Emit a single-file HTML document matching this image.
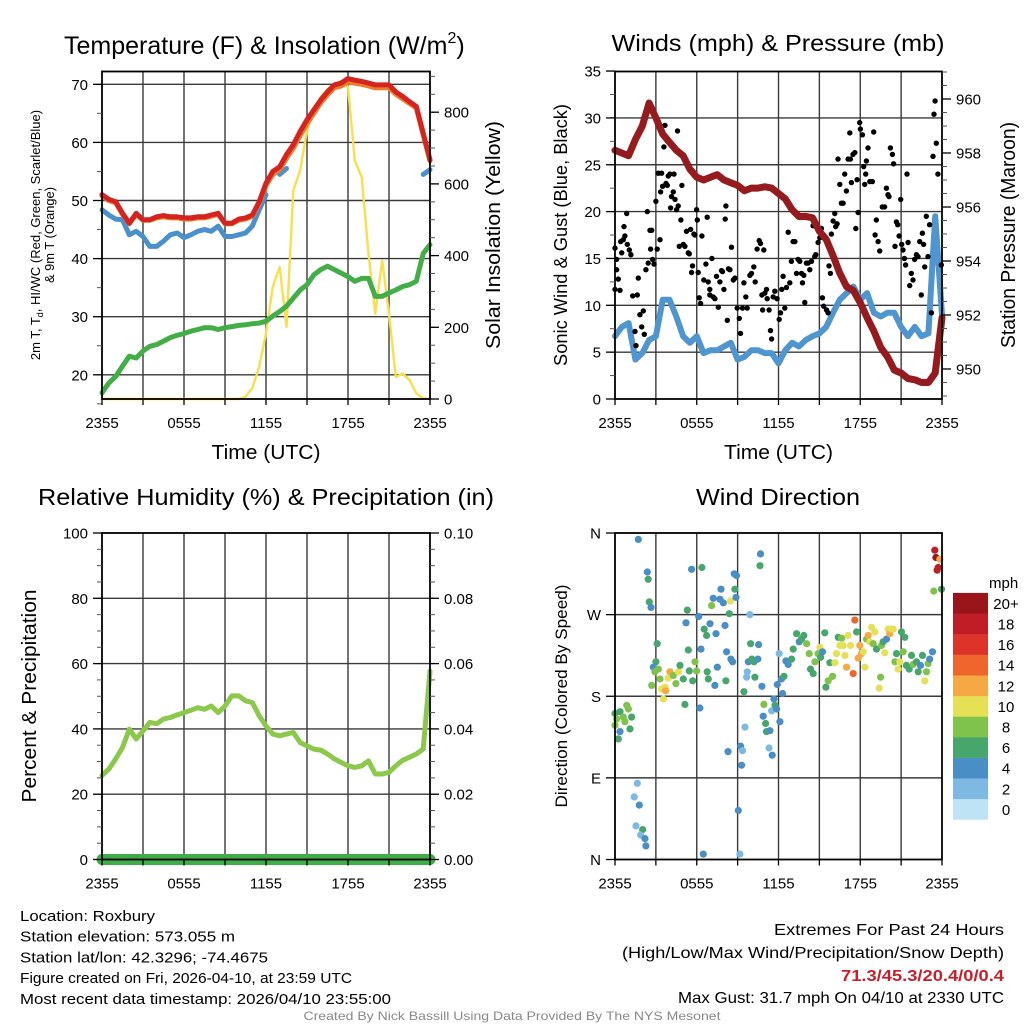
<!DOCTYPE html>
<html><head><meta charset="utf-8"><style>
body{margin:0;background:#fff}
svg{display:block;font-family:"Liberation Sans",Arial,sans-serif}
</style></head><body>
<svg id="c" width="1024" height="1024" viewBox="0 0 1024 1024" xmlns="http://www.w3.org/2000/svg"></svg>
<script>
// ---- data (half-hourly from 2355 to 2355, 49 points) ----
const xTickLabels = ["2355","0555","1155","1755","2355"];
const tempRed = [51.0,50.2,49.8,47.8,46.1,47.8,46.7,46.7,47.2,47.4,47.2,47.2,47.0,47.0,47.2,47.2,47.5,47.8,46.1,46.1,46.8,47.0,47.5,49.8,53.0,55.0,55.8,57.9,59.6,61.9,63.9,65.6,67.3,68.7,69.9,70.2,71.0,70.7,70.5,70.2,69.9,69.9,69.9,68.7,67.9,67.0,66.2,61.6,57.0];
const tempOrange = [50.8,50.0,49.6,47.6,46.0,47.6,46.6,46.6,47.0,47.2,47.0,47.0,46.8,46.8,47.0,47.0,47.3,47.6,46.0,46.0,46.6,46.8,47.3,49.5,52.6,54.5,55.3,57.3,59.0,61.2,63.2,65.0,66.8,68.2,69.4,69.7,70.4,70.2,70.0,69.7,69.4,69.4,69.4,68.3,67.5,66.7,65.9,61.3,56.8];
const hiwcBlue = [48.4,47.5,46.8,46.7,44.1,44.7,43.8,42.1,42.1,43.0,44.1,44.4,43.6,44.1,44.7,45.0,44.7,45.6,43.8,43.8,44.1,44.4,45.6,48.4,51.0,null,54.5,55.5,null,null,null,null,null,null,null,null,null,null,null,null,null,null,null,null,null,null,null,54.5,55.3];
const dewGreen = [16.9,18.6,19.7,21.5,23.2,22.9,24.1,24.9,25.2,25.8,26.4,26.8,27.1,27.5,27.8,28.1,28.1,27.8,28.1,28.3,28.5,28.6,28.8,28.9,29.2,30.1,30.9,31.8,33.2,34.6,35.5,37.2,38.1,38.7,38.1,37.5,36.9,36.1,36.6,36.6,33.5,33.5,34.1,34.6,35.2,35.5,36.1,40.9,42.4];
const solarYellow = [0,0,0,0,0,0,0,0,0,0,0,0,0,0,0,0,0,0,0,0,0,6,30,90,183,313,368,201,582,638,749,805,842,865,870,888,870,665,619,405,238,387,238,61,71,53,16,2,0];
const windSust = [6.7,7.7,8.1,4.2,4.9,6.3,6.7,10.6,10.6,8.8,6.7,6.0,6.7,4.9,5.2,5.2,5.6,6.0,4.2,4.5,5.2,5.2,4.9,4.9,3.8,5.2,6.0,5.6,6.3,6.7,7.0,7.7,9.2,10.6,11.3,12.0,10.6,11.3,9.2,8.8,9.2,9.2,7.7,6.7,7.7,6.7,7.0,19.5,9.0];
const pressure = [958.1,958.0,957.9,958.5,959.0,959.85,959.3,958.7,958.4,958.1,957.9,957.4,957.1,957.0,957.1,957.2,957.0,956.9,956.8,956.6,956.7,956.7,956.75,956.7,956.5,956.3,955.9,955.65,955.65,955.6,955.1,954.8,954.2,953.55,953.05,952.9,952.45,951.9,951.4,950.8,950.45,949.96,949.85,949.65,949.6,949.5,949.5,949.85,951.9];
const rhValues = [25.7,27.7,30.8,34.3,39.9,36.9,39.4,42.0,41.6,43.0,43.5,44.3,45.0,45.7,46.5,46.0,47.0,45.0,47.0,50.1,50.1,48.6,48.1,44.0,40.9,38.4,37.9,38.4,38.9,35.8,34.8,33.8,33.5,32.3,30.8,29.7,28.7,28.2,28.7,30.2,26.2,26.2,26.7,28.7,30.4,31.3,32.3,33.8,57.7];
const precipValues = [0,0,0,0,0,0,0,0,0,0,0,0,0,0,0,0,0,0,0,0,0,0,0,0,0,0,0,0,0,0,0,0,0,0,0,0,0,0,0,0,0,0,0,0,0,0,0,0,0];
// gusts: hours after 2355, mph
const gustHours = [0.0,0.0,0.12,0.12,0.24,0.37,0.42,0.49,0.61,0.66,0.73,0.86,0.9,1.05,1.17,1.3,1.47,1.54,1.64,1.71,1.83,1.96,2.08,2.15,2.27,2.37,2.44,2.57,2.61,2.69,2.76,2.86,3.0,3.1,3.18,3.3,3.35,3.42,3.49,3.59,3.67,3.74,3.84,3.91,4.03,4.08,4.15,4.28,4.33,4.4,4.52,4.59,4.64,4.72,4.84,4.91,5.01,5.13,5.25,5.38,5.45,5.55,5.62,5.69,5.79,5.87,5.99,6.04,6.11,6.18,6.28,6.38,6.52,6.67,6.77,6.84,6.96,7.11,6.96,7.21,7.33,7.45,7.58,7.7,7.82,7.89,7.99,8.09,8.14,8.24,8.33,8.43,8.55,8.68,8.8,8.97,9.12,9.21,9.36,9.46,9.6,9.7,9.9,10.02,10.19,10.29,10.43,10.58,10.68,10.78,10.83,10.92,11.0,11.12,11.17,11.31,11.41,11.49,11.61,11.73,11.9,12.05,12.15,12.24,12.34,12.46,12.59,12.71,12.83,12.95,13.07,13.2,13.32,13.44,13.56,13.69,13.76,13.86,13.93,14.05,14.17,14.3,14.42,14.54,14.66,14.74,14.91,15.03,15.15,15.22,15.32,15.52,15.64,15.71,15.81,15.88,16.01,16.13,16.2,16.3,16.37,16.5,16.62,16.74,16.86,16.98,17.11,17.23,17.28,17.35,17.47,17.6,17.67,17.77,17.84,17.96,18.01,18.16,18.25,18.33,18.4,18.45,18.57,18.7,18.89,18.99,19.09,19.18,19.31,19.43,19.62,19.79,19.92,20.04,20.11,20.21,20.36,20.45,20.55,20.65,20.75,20.85,20.97,21.04,21.14,21.24,21.33,21.43,21.51,21.63,21.75,21.87,21.99,22.12,22.24,22.36,22.48,22.56,22.65,22.73,22.85,22.97,23.09,23.22,23.34,23.41,23.49,23.58,23.7,23.95];
const gustMph = [16.1,11.7,14.9,13.8,12.8,11.6,16.8,15.6,17.0,18.4,17.4,19.8,16.5,15.9,15.4,11.0,7.2,5.7,11.1,12.9,9.0,7.7,9.4,6.9,13.8,20.0,14.5,18.0,16.0,18.0,14.9,14.4,21.1,16.0,24.1,17.0,22.1,24.1,22.7,26.9,29.2,23.0,22.8,23.8,24.0,20.4,21.6,22.1,24.0,21.3,20.2,28.6,20.6,16.3,19.1,22.8,16.5,16.3,17.9,15.6,15.5,18.1,13.5,14.2,17.6,17.5,20.2,19.1,13.5,10.8,10.2,17.4,12.7,14.4,19.4,12.5,11.7,15.0,11.1,10.9,10.7,13.1,9.8,12.5,13.7,13.6,11.7,19.2,20.6,8.4,13.9,13.8,16.2,12.7,12.9,9.7,8.6,7.0,9.7,12.4,10.9,9.7,13.2,13.4,14.1,12.5,16.0,16.9,16.6,11.1,9.5,15.9,11.3,11.7,10.7,9.5,7.3,6.4,10.9,11.5,10.7,8.5,9.2,11.7,13.1,9.7,11.9,17.8,12.4,14.7,16.8,16.8,13.4,14.9,14.7,13.4,12.4,13.2,10.3,14.5,14.5,13.8,14.7,18.5,15.2,15.4,16.7,17.2,18.2,10.8,9.9,9.5,9.2,14.2,13.4,17.6,19.0,19.8,18.4,18.7,25.6,22.9,20.9,20.9,24.0,22.2,25.6,28.4,25.6,23.1,26.1,26.3,18.2,23.4,19.9,29.5,28.8,28.2,24.8,22.9,24.0,25.4,26.8,23.2,23.2,28.5,17.5,19.1,16.8,15.8,20.5,20.5,22.5,21.8,21.6,26.8,26.1,25.1,16.3,18.9,18.6,17.4,21.3,16.5,15.9,15.0,14.3,24.0,16.7,12.1,13.4,12.7,14.9,15.4,15.2,16.8,11.1,17.7,16.5,14.1,19.5,15.2,18.6,9.2,25.9,30.4,31.8,27.3,24.0,14.3];
// wind direction: hours, degrees, speed (mph)
const dirHours = [0.0,0.12,0.37,0.61,0.86,0.98,1.22,1.1,0.37,0.24,0.0,0.73,1.71,2.37,2.44,2.52,2.64,1.64,1.42,1.78,1.54,2.03,1.88,2.2,2.27,3.1,3.0,2.81,3.18,2.93,3.3,2.69,3.42,3.67,3.55,3.72,4.03,3.91,4.28,4.47,4.65,4.77,5.01,5.13,5.31,5.21,5.38,5.45,5.7,5.62,5.87,5.99,6.14,6.23,6.31,6.38,6.55,6.72,6.77,6.85,6.97,7.09,7.21,7.41,7.51,7.33,7.78,7.7,7.95,8.07,8.14,8.19,8.29,8.39,8.51,8.63,8.48,8.75,8.92,8.8,8.88,9.22,9.36,9.29,9.05,9.17,6.48,9.54,9.46,9.71,9.66,9.78,9.95,10.05,10.2,10.27,10.54,10.49,10.68,10.64,9.9,10.78,10.93,11.05,11.12,11.3,11.37,11.54,10.88,11.49,11.66,11.74,11.86,11.91,12.05,12.1,12.22,12.3,12.4,12.54,12.71,12.96,13.08,13.33,13.52,13.69,13.86,14.06,14.25,14.35,14.55,14.67,14.91,15.04,15.09,15.23,15.4,15.48,15.65,15.77,15.97,16.14,16.26,16.38,16.5,16.63,16.75,16.87,16.99,17.11,17.29,17.48,17.6,17.73,17.85,17.97,18.09,18.22,18.34,18.46,18.58,18.7,18.83,18.95,19.07,19.19,19.39,19.49,19.56,19.68,19.8,19.93,20.05,20.17,20.29,20.42,20.54,20.66,20.78,20.9,21.03,21.15,21.27,21.39,21.59,21.76,21.88,22.13,22.25,22.42,22.57,22.74,22.86,22.98,23.1,23.3,23.47,23.55,23.72,23.64,23.84,23.4,23.96];
const dirDeg = [161,155,163,157,170,166,157,144,141,133,148,152,353,317,309,284,278,84,69,60,37,33,27,23,15,238,218,212,210,207,199,192,188,190,177,186,207,200,203,194,207,214,199,171,275,261,231,208,197,320,218,208,268,167,232,322,254,247,207,199,260,280,288,249,212,192,298,287,283,258,197,229,119,271,221,218,285,315,313,298,289,125,120,104,54,6,6,146,185,207,201,218,238,221,218,201,237,221,337,324,270,191,171,150,141,123,142,115,158,164,177,170,166,193,227,152,199,183,202,219,215,221,232,249,240,243,247,238,227,210,205,218,227,234,223,229,250,190,197,217,202,217,227,245,236,244,236,225,212,247,236,205,264,251,222,236,227,229,212,243,247,240,256,238,251,232,189,201,236,240,228,243,254,249,254,254,218,227,210,218,251,229,245,214,210,225,215,218,207,214,225,197,207,216,221,229,341,333,322,319,331,296,298];
const dirSpeed = [6,8,6,8,8,8,6,6,4,6,8,8,4,4,6,6,4,2,2,4,2,6,2,4,4,6,6,4,8,8,8,8,10,10,10,12,12,10,8,8,10,6,6,6,6,4,6,6,6,4,8,8,4,4,4,6,6,6,6,6,4,8,4,4,4,4,4,4,4,4,6,4,4,6,4,4,10,4,4,6,4,4,2,4,4,2,4,2,6,2,2,4,6,6,6,6,4,4,4,6,2,4,8,6,6,2,4,4,4,2,4,6,4,4,2,4,4,4,6,4,4,6,6,6,4,6,6,8,8,6,6,8,8,10,6,4,6,6,8,6,8,10,10,6,10,8,10,10,12,10,10,14,14,6,12,12,12,10,10,8,12,10,10,8,10,6,10,8,8,6,10,4,10,12,10,10,8,6,10,10,6,8,6,6,6,6,8,6,6,4,6,10,8,8,4,4,18,20,18,18,12,8,6];
const speedColors = ["#bde3f5","#7db9e3","#4a8ec6","#46a66c","#7fc24c","#e6e057","#f6a843","#ef662c","#dd3329","#c01d26","#9a1519"];
const speedLabels = ["0","2","4","6","8","10","12","14","16","18","20+"];

const svg = document.getElementById('c');
const NS = 'http://www.w3.org/2000/svg';
function mk(tag, attrs, parent){const e=document.createElementNS(NS,tag);for(const k in attrs)e.setAttribute(k,attrs[k]);(parent||svg).appendChild(e);return e;}
function txt(s, attrs, parent){const e=mk('text',attrs,parent);e.textContent=s;return e;}

function panel(name,x0,y0,x1,y1){
  const g=mk('g',{});
  
  
  return {g,x0,y0,x1,y1,xh:h=>x0+(x1-x0)*h/24};
}
function grid(p, yVals, yFn){
  const gg=mk('g',{},p.g);
  
  
  for(let h=3;h<24;h+=3){mk('line',{x1:p.xh(h),x2:p.xh(h),y1:p.y0,y2:p.y1,stroke:'#3a3a3a','stroke-width':1.4},gg);}
  yVals.forEach(v=>{const y=yFn(v);if(y>p.y0+1&&y<p.y1-1)mk('line',{x1:p.x0,x2:p.x1,y1:y,y2:y,stroke:'#3a3a3a','stroke-width':1.4},gg);});
}
function frame(p){
  const r=mk('rect',{x:p.x0,y:p.y0,width:p.x1-p.x0,height:p.y1-p.y0,fill:'none',stroke:'#000','stroke-width':1.8},p.g);
  
  
}
function xAxis(p,withTitle){
  const ax=mk('g',{},p.g);
  
  
  for(let h=0;h<=24;h+=3)mk('line',{x1:p.xh(h),x2:p.xh(h),y1:p.y1,y2:p.y1+6,stroke:'#000','stroke-width':1.3},ax);
  xTickLabels.forEach((l,i)=>{const t=txt(l,{x:p.xh(i*6),y:p.y1+29,'font-size':15,'text-anchor':'middle'},ax);
    
    });
  if(withTitle){const t=txt('Time (UTC)',{x:(p.x0+p.x1)/2,y:p.y1+60,'font-size':20,'text-anchor':'middle',textLength:109,lengthAdjust:'spacingAndGlyphs'},ax);
    
    }
}
function yAxis(p,side,ticks,labels,fn,minor){
  const ax=mk('g',{},p.g);
  
  
  const x=side==='left'?p.x0:p.x1, d=side==='left'?-1:1;
  (minor||[]).forEach(v=>{const y=fn(v);mk('line',{x1:x,x2:x+d*5,y1:y,y2:y,stroke:'#555','stroke-width':1},ax);});
  ticks.forEach((v,i)=>{const y=fn(v);mk('line',{x1:x,x2:x+d*9,y1:y,y2:y,stroke:'#000','stroke-width':1.3},ax);
    const t=txt(labels[i],{x:x+d*14,y:y+5.5,'font-size':15,'text-anchor':side==='left'?'end':'start'},ax);
    
    });
}
function line(p,vals,fn,color,w,name){
  let d='';let pen=false;
  vals.forEach((v,i)=>{if(v===null||v===undefined){pen=false;return;}const x=p.xh(i/2),y=fn(v);d+=(pen?'L':'M')+x.toFixed(1)+' '+y.toFixed(1);pen=true;});
  const e=mk('path',{d,fill:'none',stroke:color,'stroke-width':w,'stroke-linejoin':'round','stroke-linecap':'round'},p.g);
  
  
  return e;
}
function title(s,x,y,len){const t=txt(s,{x,y,'font-size':23,'text-anchor':'middle',textLength:len,lengthAdjust:'spacingAndGlyphs'});
  
  return t;}
function vlabel(s,x,y,size,len){const t=txt(s,{x:0,y:0,'font-size':size,'text-anchor':'middle',transform:`translate(${x},${y}) rotate(-90)`,textLength:len,lengthAdjust:'spacingAndGlyphs'});
  
  return t;}
const range=(a,b,s)=>{const r=[];for(let v=a;v<=b+1e-9;v+=s)r.push(+v.toFixed(3));return r;};

// ---- Panel 1: Temperature ----
{
const p=panel('temperature-panel',102,71.5,430,399);
const tY=v=>84.3+(70-v)*5.81; const sY=v=>399-v*0.3585;
grid(p,[20,30,40,50,60,70],tY);
line(p,solarYellow,sY,'#f7df4e',2.4,'solar-insolation-line');
line(p,dewGreen,tY,'#43ae47',5,'dewpoint-line');
line(p,hiwcBlue,tY,'#4a90cc',5,'heat-index-windchill-line');
line(p,tempOrange,tY,'#f07c2a',5,'temperature-9m-line');
line(p,tempRed,tY,'#d42422',5,'temperature-2m-line');
frame(p);
yAxis(p,'left',[20,30,40,50,60,70],['20','30','40','50','60','70'],tY,range(15,70,5));
yAxis(p,'right',[0,200,400,600,800],['0','200','400','600','800'],sY,range(0,900,50));
xAxis(p,true);
const t=txt('',{x:64,y:54,'font-size':25});


const t1=mk('tspan',{},t); t1.textContent='Temperature (F) & Insolation (W/m';
const t2=mk('tspan',{'font-size':16,dy:-11},t); t2.textContent='2';
const t3=mk('tspan',{dy:11},t); t3.textContent=')';
const yl=txt('',{x:0,y:0,'font-size':13,'text-anchor':'middle',transform:'translate(40,235) rotate(-90)'});


const a1=mk('tspan',{},yl); a1.textContent='2m T, T';
const a2=mk('tspan',{'font-size':9,dy:3},yl); a2.textContent='d';
const a3=mk('tspan',{dy:-3},yl); a3.textContent=', HI/WC (Red, Green, Scarlet/Blue)';
vlabel('& 9m T (Orange)',54,235,13,96);
vlabel('Solar Insolation (Yellow)',500,235,20,228);
}
// ---- Panel 2: Winds ----
{
const p=panel('winds-pressure-panel',615,71.5,942,399);
const wY=v=>399-v*9.37; const pY=v=>99+(960-v)*27;
grid(p,[5,10,15,20,25,30],wY);
line(p,windSust,wY,'#4f95d0',6,'sustained-wind-line');
const gg=mk('g',{},p.g);


gustHours.forEach((h,i)=>{const c=mk('circle',{cx:p.xh(h).toFixed(1),cy:wY(gustMph[i]).toFixed(1),r:2.7,fill:'#000'},gg);
  
  });
line(p,pressure,pY,'#951b1e',7,'pressure-line');
frame(p);
yAxis(p,'left',[0,5,10,15,20,25,30,35],['0','5','10','15','20','25','30','35'],wY,range(0,35,2.5));
yAxis(p,'right',[950,952,954,956,958,960],['950','952','954','956','958','960'],pY,range(949,961,0.5));
xAxis(p,true);
title('Winds (mph) & Pressure (mb)',778,51,333);
vlabel('Sonic Wind & Gust (Blue, Black)',567,235,18,262);
vlabel('Station Pressure (Maroon)',1015,235,20,226);
}
// ---- Panel 3: RH ----
{
const p=panel('humidity-precip-panel',102,533,430,859.5);
const rY=v=>859.5-v*3.265; const qY=v=>859.5-v*3265;
grid(p,[20,40,60,80],rY);
line(p,rhValues,rY,'#8cc84b',5,'relative-humidity-line');
line(p,precipValues,qY,'#3fae49',11,'precipitation-line');
frame(p);
yAxis(p,'left',[0,20,40,60,80,100],['0','20','40','60','80','100'],rY,range(0,100,5));
yAxis(p,'right',[0,0.02,0.04,0.06,0.08,0.1],['0.00','0.02','0.04','0.06','0.08','0.10'],qY,range(0,0.1,0.005));
xAxis(p,false);
title('Relative Humidity (%) & Precipitation (in)',266,505,456);
vlabel('Percent & Precipitation',36,696,20,213);
}
// ---- Panel 4: Wind direction ----
{
const p=panel('wind-direction-panel',615,533,942,859.5);
const dY=v=>859.5-v*0.9069;
grid(p,[90,180,270],dY);
const gg=mk('g',{},p.g);


dirHours.forEach((h,i)=>{const sp=dirSpeed[i]===undefined?6:dirSpeed[i];const ci=Math.min(10,Math.round(sp/2));
  const c=mk('circle',{cx:p.xh(h).toFixed(1),cy:dY(dirDeg[i]).toFixed(1),r:3.6,fill:speedColors[ci]},gg);
  
  });
frame(p);
yAxis(p,'left',[0,90,180,270,360],['N','E','S','W','N'],dY,[]);
xAxis(p,false);
title('Wind Direction',778,505,164);
vlabel('Direction (Colored By Speed)',567,696,17,223);
// colorbar
const cb=mk('g',{});


const ct=txt('mph',{x:989,y:588,'font-size':15},cb);


speedColors.forEach((c,i)=>{const y=819.5-(i+1)*20.6;
  const r=mk('rect',{x:953,y:y,width:35,height:20.8,fill:c},cb);
  
  
  const l=txt(speedLabels[i],{x:1006,y:y+16,'font-size':15,'text-anchor':'middle'},cb);
  
  });
}
// ---- Footer ----
const leftLines=[["Location: Roxbury",135],["Station elevation: 573.055 m",215],["Station lat/lon: 42.3296; -74.4675",248],["Figure created on Fri, 2026-04-10, at 23:59 UTC",332],["Most recent data timestamp: 2026/04/10 23:55:00",371]];
leftLines.forEach((l,i)=>{const t=txt(l[0],{x:20,y:921+i*20.7,'font-size':15,textLength:l[1],lengthAdjust:'spacingAndGlyphs'});
  
  });
const rightLines=[["Extremes For Past 24 Hours",230,'#000','normal',935],["(High/Low/Max Wind/Precipitation/Snow Depth)",382,'#000','normal',958],["71.3/45.3/20.4/0/0.4",163,'#c8202a','bold',981],["Max Gust: 31.7 mph On 04/10 at 2330 UTC",326,'#000','normal',1003]];
rightLines.forEach(l=>{const t=txt(l[0],{x:1004,y:l[4],'font-size':16,'text-anchor':'end',fill:l[2],'font-weight':l[3],textLength:l[1],lengthAdjust:'spacingAndGlyphs'});
  
  });
const cr=txt('Created By Nick Bassill Using Data Provided By The NYS Mesonet',{x:512,y:1020,'font-size':12,'text-anchor':'middle',fill:'#888',textLength:417,lengthAdjust:'spacingAndGlyphs'});


</script>
</body></html>
